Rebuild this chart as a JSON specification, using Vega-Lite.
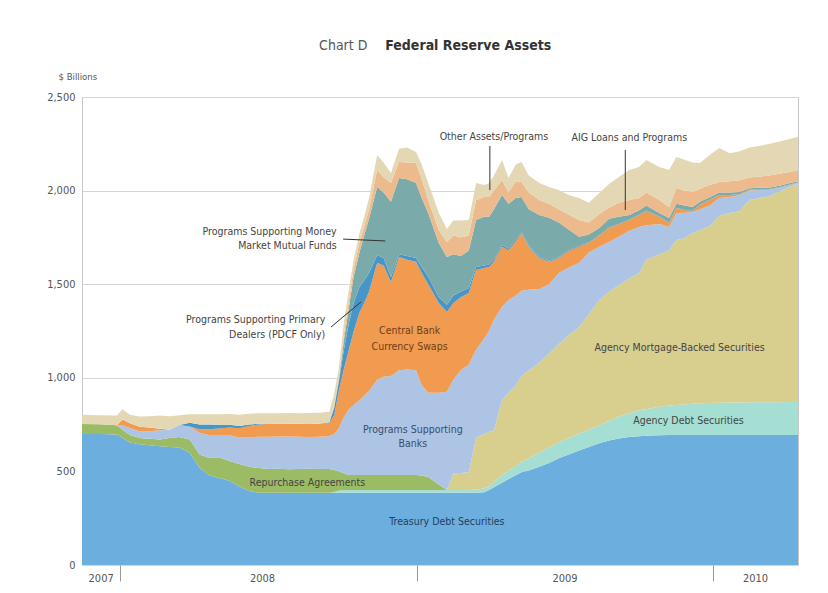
{
  "$schema": "https://vega.github.io/schema/vega-lite/v6.json",
  "width": 716,
  "height": 468,
  "autosize": "none",
  "padding": {"left": 82, "top": 97, "right": 30, "bottom": 28},
  "background": "white",
  "config": {
    "view": {"stroke": "#c8c8c8"},
    "font": "Liberation Sans Narrow, DejaVu Sans Condensed, sans-serif"
  },
  "datasets": {
    "stackorder": [
      {"series": "Treasury", "ord": 1},
      {"series": "AgencyDebt", "ord": 2},
      {"series": "MBS", "ord": 3},
      {"series": "Repo", "ord": 4},
      {"series": "Banks", "ord": 5},
      {"series": "Swaps", "ord": 6},
      {"series": "PDCF", "ord": 7},
      {"series": "MMMF", "ord": 8},
      {"series": "AIG", "ord": 9},
      {"series": "Other", "ord": 10}
    ],
    "assets": [
      {"date": "2007-11-15", "Treasury": 700, "AgencyDebt": 0, "MBS": 0, "Repo": 53, "Banks": 0, "Swaps": 0, "PDCF": 0, "MMMF": 0, "AIG": 0, "Other": 50},
      {"date": "2007-12-07", "Treasury": 700, "AgencyDebt": 0, "MBS": 0, "Repo": 52, "Banks": 0, "Swaps": 0, "PDCF": 0, "MMMF": 0, "AIG": 0, "Other": 48},
      {"date": "2007-12-28", "Treasury": 697, "AgencyDebt": 0, "MBS": 0, "Repo": 50, "Banks": 0, "Swaps": 0, "PDCF": 0, "MMMF": 0, "AIG": 0, "Other": 52},
      {"date": "2008-01-04", "Treasury": 680, "AgencyDebt": 0, "MBS": 0, "Repo": 42, "Banks": 25, "Swaps": 30, "PDCF": 0, "MMMF": 0, "AIG": 0, "Other": 55},
      {"date": "2008-01-13", "Treasury": 655, "AgencyDebt": 0, "MBS": 0, "Repo": 39, "Banks": 38, "Swaps": 25, "PDCF": 0, "MMMF": 0, "AIG": 0, "Other": 45},
      {"date": "2008-01-25", "Treasury": 645, "AgencyDebt": 0, "MBS": 0, "Repo": 33, "Banks": 35, "Swaps": 25, "PDCF": 0, "MMMF": 0, "AIG": 0, "Other": 55},
      {"date": "2008-02-06", "Treasury": 640, "AgencyDebt": 0, "MBS": 0, "Repo": 35, "Banks": 40, "Swaps": 20, "PDCF": 0, "MMMF": 0, "AIG": 0, "Other": 60},
      {"date": "2008-02-19", "Treasury": 635, "AgencyDebt": 0, "MBS": 0, "Repo": 35, "Banks": 50, "Swaps": 8, "PDCF": 0, "MMMF": 0, "AIG": 0, "Other": 70},
      {"date": "2008-03-02", "Treasury": 630, "AgencyDebt": 0, "MBS": 0, "Repo": 48, "Banks": 45, "Swaps": 0, "PDCF": 0, "MMMF": 0, "AIG": 0, "Other": 72},
      {"date": "2008-03-14", "Treasury": 628, "AgencyDebt": 0, "MBS": 0, "Repo": 56, "Banks": 64, "Swaps": 0, "PDCF": 0, "MMMF": 0, "AIG": 0, "Other": 52},
      {"date": "2008-03-27", "Treasury": 600, "AgencyDebt": 0, "MBS": 0, "Repo": 70, "Banks": 70, "Swaps": 0, "PDCF": 20, "MMMF": 0, "AIG": 0, "Other": 45},
      {"date": "2008-04-08", "Treasury": 520, "AgencyDebt": 0, "MBS": 0, "Repo": 70, "Banks": 115, "Swaps": 20, "PDCF": 25, "MMMF": 0, "AIG": 0, "Other": 55},
      {"date": "2008-04-20", "Treasury": 480, "AgencyDebt": 0, "MBS": 0, "Repo": 92, "Banks": 123, "Swaps": 30, "PDCF": 25, "MMMF": 0, "AIG": 0, "Other": 55},
      {"date": "2008-05-02", "Treasury": 465, "AgencyDebt": 0, "MBS": 0, "Repo": 110, "Banks": 119, "Swaps": 35, "PDCF": 20, "MMMF": 0, "AIG": 0, "Other": 56},
      {"date": "2008-05-15", "Treasury": 450, "AgencyDebt": 0, "MBS": 0, "Repo": 105, "Banks": 139, "Swaps": 40, "PDCF": 15, "MMMF": 0, "AIG": 0, "Other": 58},
      {"date": "2008-05-27", "Treasury": 420, "AgencyDebt": 0, "MBS": 0, "Repo": 120, "Banks": 140, "Swaps": 50, "PDCF": 12, "MMMF": 0, "AIG": 0, "Other": 60},
      {"date": "2008-06-08", "Treasury": 395, "AgencyDebt": 0, "MBS": 0, "Repo": 130, "Banks": 157, "Swaps": 60, "PDCF": 8, "MMMF": 0, "AIG": 0, "Other": 58},
      {"date": "2008-06-20", "Treasury": 386, "AgencyDebt": 0, "MBS": 0, "Repo": 132, "Banks": 167, "Swaps": 65, "PDCF": 5, "MMMF": 0, "AIG": 0, "Other": 55},
      {"date": "2008-07-03", "Treasury": 386, "AgencyDebt": 0, "MBS": 0, "Repo": 127, "Banks": 172, "Swaps": 68, "PDCF": 0, "MMMF": 0, "AIG": 0, "Other": 57},
      {"date": "2008-07-15", "Treasury": 386, "AgencyDebt": 0, "MBS": 0, "Repo": 128, "Banks": 172, "Swaps": 70, "PDCF": 0, "MMMF": 0, "AIG": 0, "Other": 54},
      {"date": "2008-07-27", "Treasury": 386, "AgencyDebt": 0, "MBS": 0, "Repo": 125, "Banks": 175, "Swaps": 68, "PDCF": 0, "MMMF": 0, "AIG": 0, "Other": 58},
      {"date": "2008-08-09", "Treasury": 386, "AgencyDebt": 0, "MBS": 0, "Repo": 127, "Banks": 172, "Swaps": 70, "PDCF": 0, "MMMF": 0, "AIG": 0, "Other": 55},
      {"date": "2008-08-21", "Treasury": 386, "AgencyDebt": 0, "MBS": 0, "Repo": 128, "Banks": 170, "Swaps": 72, "PDCF": 0, "MMMF": 0, "AIG": 0, "Other": 56},
      {"date": "2008-09-02", "Treasury": 386, "AgencyDebt": 0, "MBS": 0, "Repo": 127, "Banks": 172, "Swaps": 70, "PDCF": 0, "MMMF": 0, "AIG": 0, "Other": 58},
      {"date": "2008-09-15", "Treasury": 386, "AgencyDebt": 0, "MBS": 0, "Repo": 127, "Banks": 175, "Swaps": 70, "PDCF": 5, "MMMF": 0, "AIG": 0, "Other": 55},
      {"date": "2008-09-21", "Treasury": 386, "AgencyDebt": 4, "MBS": 0, "Repo": 118, "Banks": 192, "Swaps": 100, "PDCF": 40, "MMMF": 0, "AIG": 10, "Other": 65},
      {"date": "2008-09-27", "Treasury": 386, "AgencyDebt": 12, "MBS": 0, "Repo": 102, "Banks": 230, "Swaps": 205, "PDCF": 50, "MMMF": 10, "AIG": 15, "Other": 50},
      {"date": "2008-10-03", "Treasury": 386, "AgencyDebt": 14, "MBS": 0, "Repo": 90, "Banks": 300, "Swaps": 258, "PDCF": 102, "MMMF": 50, "AIG": 30, "Other": 70},
      {"date": "2008-10-09", "Treasury": 386, "AgencyDebt": 15, "MBS": 0, "Repo": 80, "Banks": 349, "Swaps": 317, "PDCF": 143, "MMMF": 80, "AIG": 40, "Other": 60},
      {"date": "2008-10-15", "Treasury": 386, "AgencyDebt": 15, "MBS": 0, "Repo": 80, "Banks": 374, "Swaps": 392, "PDCF": 153, "MMMF": 140, "AIG": 40, "Other": 50},
      {"date": "2008-10-22", "Treasury": 386, "AgencyDebt": 15, "MBS": 0, "Repo": 80, "Banks": 399, "Swaps": 466, "PDCF": 139, "MMMF": 182, "AIG": 53, "Other": 50},
      {"date": "2008-10-28", "Treasury": 386, "AgencyDebt": 15, "MBS": 0, "Repo": 80, "Banks": 424, "Swaps": 495, "PDCF": 120, "MMMF": 240, "AIG": 50, "Other": 50},
      {"date": "2008-11-03", "Treasury": 386, "AgencyDebt": 15, "MBS": 0, "Repo": 80, "Banks": 449, "Swaps": 530, "PDCF": 100, "MMMF": 290, "AIG": 50, "Other": 60},
      {"date": "2008-11-13", "Treasury": 386, "AgencyDebt": 15, "MBS": 0, "Repo": 80, "Banks": 509, "Swaps": 623, "PDCF": 43, "MMMF": 363, "AIG": 91, "Other": 80},
      {"date": "2008-11-21", "Treasury": 386, "AgencyDebt": 15, "MBS": 0, "Repo": 80, "Banks": 524, "Swaps": 595, "PDCF": 40, "MMMF": 350, "AIG": 80, "Other": 80},
      {"date": "2008-11-30", "Treasury": 386, "AgencyDebt": 15, "MBS": 0, "Repo": 80, "Banks": 529, "Swaps": 500, "PDCF": 28, "MMMF": 402, "AIG": 100, "Other": 54},
      {"date": "2008-12-10", "Treasury": 386, "AgencyDebt": 15, "MBS": 0, "Repo": 80, "Banks": 559, "Swaps": 605, "PDCF": 15, "MMMF": 407, "AIG": 86, "Other": 70},
      {"date": "2008-12-20", "Treasury": 386, "AgencyDebt": 15, "MBS": 0, "Repo": 80, "Banks": 564, "Swaps": 585, "PDCF": 20, "MMMF": 410, "AIG": 90, "Other": 80},
      {"date": "2008-12-31", "Treasury": 386, "AgencyDebt": 15, "MBS": 0, "Repo": 80, "Banks": 559, "Swaps": 580, "PDCF": 20, "MMMF": 400, "AIG": 107, "Other": 59},
      {"date": "2009-01-07", "Treasury": 386, "AgencyDebt": 15, "MBS": 0, "Repo": 77, "Banks": 482, "Swaps": 600, "PDCF": 30, "MMMF": 370, "AIG": 100, "Other": 80},
      {"date": "2009-01-15", "Treasury": 386, "AgencyDebt": 15, "MBS": 0, "Repo": 69, "Banks": 450, "Swaps": 580, "PDCF": 40, "MMMF": 340, "AIG": 70, "Other": 90},
      {"date": "2009-01-28", "Treasury": 386, "AgencyDebt": 15, "MBS": 0, "Repo": 29, "Banks": 490, "Swaps": 480, "PDCF": 30, "MMMF": 290, "AIG": 70, "Other": 90},
      {"date": "2009-02-07", "Treasury": 386, "AgencyDebt": 15, "MBS": 0, "Repo": 0, "Banks": 524, "Swaps": 427, "PDCF": 38, "MMMF": 255, "AIG": 80, "Other": 70},
      {"date": "2009-02-15", "Treasury": 386, "AgencyDebt": 15, "MBS": 89, "Repo": 0, "Banks": 500, "Swaps": 410, "PDCF": 40, "MMMF": 220, "AIG": 100, "Other": 80},
      {"date": "2009-02-24", "Treasury": 386, "AgencyDebt": 15, "MBS": 91, "Repo": 0, "Banks": 548, "Swaps": 390, "PDCF": 30, "MMMF": 190, "AIG": 100, "Other": 90},
      {"date": "2009-03-06", "Treasury": 386, "AgencyDebt": 15, "MBS": 94, "Repo": 0, "Banks": 575, "Swaps": 383, "PDCF": 27, "MMMF": 200, "AIG": 80, "Other": 83},
      {"date": "2009-03-15", "Treasury": 386, "AgencyDebt": 16, "MBS": 278, "Repo": 0, "Banks": 470, "Swaps": 426, "PDCF": 16, "MMMF": 251, "AIG": 107, "Other": 90},
      {"date": "2009-03-25", "Treasury": 388, "AgencyDebt": 22, "MBS": 290, "Repo": 0, "Banks": 510, "Swaps": 376, "PDCF": 14, "MMMF": 260, "AIG": 106, "Other": 64},
      {"date": "2009-03-31", "Treasury": 400, "AgencyDebt": 20, "MBS": 290, "Repo": 0, "Banks": 540, "Swaps": 340, "PDCF": 15, "MMMF": 255, "AIG": 106, "Other": 74},
      {"date": "2009-04-06", "Treasury": 415, "AgencyDebt": 30, "MBS": 275, "Repo": 0, "Banks": 590, "Swaps": 310, "PDCF": 10, "MMMF": 270, "AIG": 100, "Other": 80},
      {"date": "2009-04-16", "Treasury": 440, "AgencyDebt": 40, "MBS": 400, "Repo": 0, "Banks": 500, "Swaps": 320, "PDCF": 10, "MMMF": 267, "AIG": 80, "Other": 106},
      {"date": "2009-04-24", "Treasury": 460, "AgencyDebt": 45, "MBS": 415, "Repo": 0, "Banks": 495, "Swaps": 265, "PDCF": 10, "MMMF": 240, "AIG": 60, "Other": 77},
      {"date": "2009-05-03", "Treasury": 480, "AgencyDebt": 48, "MBS": 432, "Repo": 0, "Banks": 480, "Swaps": 290, "PDCF": 10, "MMMF": 220, "AIG": 90, "Other": 90},
      {"date": "2009-05-10", "Treasury": 495, "AgencyDebt": 55, "MBS": 460, "Repo": 0, "Banks": 455, "Swaps": 308, "PDCF": 7, "MMMF": 186, "AIG": 80, "Other": 107},
      {"date": "2009-05-19", "Treasury": 505, "AgencyDebt": 65, "MBS": 470, "Repo": 0, "Banks": 430, "Swaps": 230, "PDCF": 5, "MMMF": 195, "AIG": 90, "Other": 90},
      {"date": "2009-06-01", "Treasury": 525, "AgencyDebt": 75, "MBS": 480, "Repo": 0, "Banks": 395, "Swaps": 165, "PDCF": 5, "MMMF": 225, "AIG": 80, "Other": 90},
      {"date": "2009-06-13", "Treasury": 545, "AgencyDebt": 83, "MBS": 502, "Repo": 0, "Banks": 370, "Swaps": 120, "PDCF": 5, "MMMF": 230, "AIG": 75, "Other": 89},
      {"date": "2009-06-25", "Treasury": 570, "AgencyDebt": 85, "MBS": 525, "Repo": 0, "Banks": 380, "Swaps": 80, "PDCF": 5, "MMMF": 185, "AIG": 70, "Other": 103},
      {"date": "2009-07-08", "Treasury": 592, "AgencyDebt": 88, "MBS": 550, "Repo": 0, "Banks": 360, "Swaps": 90, "PDCF": 5, "MMMF": 105, "AIG": 80, "Other": 105},
      {"date": "2009-07-20", "Treasury": 612, "AgencyDebt": 90, "MBS": 568, "Repo": 0, "Banks": 343, "Swaps": 87, "PDCF": 5, "MMMF": 48, "AIG": 90, "Other": 117},
      {"date": "2009-08-01", "Treasury": 630, "AgencyDebt": 92, "MBS": 618, "Repo": 0, "Banks": 330, "Swaps": 50, "PDCF": 2, "MMMF": 43, "AIG": 65, "Other": 105},
      {"date": "2009-08-14", "Treasury": 650, "AgencyDebt": 95, "MBS": 670, "Repo": 0, "Banks": 285, "Swaps": 60, "PDCF": 3, "MMMF": 37, "AIG": 75, "Other": 112},
      {"date": "2009-08-26", "Treasury": 665, "AgencyDebt": 105, "MBS": 690, "Repo": 0, "Banks": 265, "Swaps": 75, "PDCF": 3, "MMMF": 47, "AIG": 60, "Other": 125},
      {"date": "2009-09-07", "Treasury": 676, "AgencyDebt": 116, "MBS": 703, "Repo": 0, "Banks": 258, "Swaps": 67, "PDCF": 2, "MMMF": 38, "AIG": 75, "Other": 138},
      {"date": "2009-09-20", "Treasury": 684, "AgencyDebt": 126, "MBS": 720, "Repo": 0, "Banks": 255, "Swaps": 58, "PDCF": 2, "MMMF": 25, "AIG": 80, "Other": 160},
      {"date": "2009-10-02", "Treasury": 688, "AgencyDebt": 137, "MBS": 735, "Repo": 0, "Banks": 245, "Swaps": 65, "PDCF": 2, "MMMF": 23, "AIG": 65, "Other": 166},
      {"date": "2009-10-11", "Treasury": 690, "AgencyDebt": 142, "MBS": 798, "Repo": 0, "Banks": 185, "Swaps": 75, "PDCF": 2, "MMMF": 28, "AIG": 70, "Other": 173},
      {"date": "2009-10-27", "Treasury": 693, "AgencyDebt": 152, "MBS": 815, "Repo": 0, "Banks": 162, "Swaps": 38, "PDCF": 2, "MMMF": 18, "AIG": 70, "Other": 176},
      {"date": "2009-11-08", "Treasury": 695, "AgencyDebt": 157, "MBS": 828, "Repo": 0, "Banks": 126, "Swaps": 21, "PDCF": 2, "MMMF": 25, "AIG": 59, "Other": 197},
      {"date": "2009-11-17", "Treasury": 695, "AgencyDebt": 160, "MBS": 881, "Repo": 0, "Banks": 144, "Swaps": 27, "PDCF": 2, "MMMF": 21, "AIG": 84, "Other": 166},
      {"date": "2009-11-27", "Treasury": 695, "AgencyDebt": 163, "MBS": 887, "Repo": 0, "Banks": 137, "Swaps": 13, "PDCF": 2, "MMMF": 23, "AIG": 80, "Other": 165},
      {"date": "2009-12-07", "Treasury": 695, "AgencyDebt": 166, "MBS": 912, "Repo": 0, "Banks": 112, "Swaps": 5, "PDCF": 2, "MMMF": 20, "AIG": 81, "Other": 157},
      {"date": "2009-12-16", "Treasury": 695, "AgencyDebt": 169, "MBS": 926, "Repo": 0, "Banks": 110, "Swaps": 23, "PDCF": 2, "MMMF": 15, "AIG": 70, "Other": 137},
      {"date": "2009-12-28", "Treasury": 695, "AgencyDebt": 171, "MBS": 944, "Repo": 0, "Banks": 110, "Swaps": 30, "PDCF": 2, "MMMF": 13, "AIG": 65, "Other": 160},
      {"date": "2010-01-09", "Treasury": 695, "AgencyDebt": 172, "MBS": 998, "Repo": 0, "Banks": 95, "Swaps": 15, "PDCF": 2, "MMMF": 13, "AIG": 56, "Other": 181},
      {"date": "2010-01-22", "Treasury": 695, "AgencyDebt": 173, "MBS": 1012, "Repo": 0, "Banks": 86, "Swaps": 9, "PDCF": 2, "MMMF": 13, "AIG": 60, "Other": 150},
      {"date": "2010-02-03", "Treasury": 695, "AgencyDebt": 173, "MBS": 1022, "Repo": 0, "Banks": 85, "Swaps": 5, "PDCF": 2, "MMMF": 11, "AIG": 62, "Other": 155},
      {"date": "2010-02-15", "Treasury": 695, "AgencyDebt": 174, "MBS": 1081, "Repo": 0, "Banks": 50, "Swaps": 3, "PDCF": 2, "MMMF": 7, "AIG": 58, "Other": 160},
      {"date": "2010-02-28", "Treasury": 695, "AgencyDebt": 174, "MBS": 1091, "Repo": 0, "Banks": 43, "Swaps": 2, "PDCF": 2, "MMMF": 8, "AIG": 60, "Other": 165},
      {"date": "2010-03-12", "Treasury": 695, "AgencyDebt": 175, "MBS": 1100, "Repo": 0, "Banks": 35, "Swaps": 2, "PDCF": 2, "MMMF": 8, "AIG": 63, "Other": 170},
      {"date": "2010-03-24", "Treasury": 695, "AgencyDebt": 175, "MBS": 1125, "Repo": 0, "Banks": 20, "Swaps": 2, "PDCF": 2, "MMMF": 7, "AIG": 64, "Other": 172},
      {"date": "2010-04-06", "Treasury": 695, "AgencyDebt": 176, "MBS": 1149, "Repo": 0, "Banks": 10, "Swaps": 1, "PDCF": 2, "MMMF": 7, "AIG": 60, "Other": 175},
      {"date": "2010-04-16", "Treasury": 695, "AgencyDebt": 176, "MBS": 1164, "Repo": 0, "Banks": 7, "Swaps": 1, "PDCF": 2, "MMMF": 5, "AIG": 60, "Other": 178}
    ],
    "pointers": [
      {"date": "2009-04-01", "value": 2238, "date2": "2009-04-01", "value2": 2003},
      {"date": "2009-09-15", "value": 2217, "date2": "2009-09-15", "value2": 1896},
      {"date": "2008-10-02", "value": 1741, "date2": "2008-11-23", "value2": 1731},
      {"date": "2008-09-17", "value": 1271, "date2": "2008-10-24", "value2": 1405}
    ],
    "labels_center": [
      {"date": "2009-04-06", "value": 2286, "text": "Other Assets/Programs"},
      {"date": "2009-09-20", "value": 2281, "text": "AIG Loans and Programs"},
      {"date": "2009-11-21", "value": 1159, "text": "Agency Mortgage-Backed Securities"},
      {"date": "2009-12-02", "value": 769, "text": "Agency Debt Securities"},
      {"date": "2008-08-19", "value": 438, "text": "Repurchase Agreements"}
    ],
    "labels_right": [
      {"date": "2008-09-24", "value": 1779, "text": "Programs Supporting Money"},
      {"date": "2008-09-24", "value": 1704, "text": "Market Mutual Funds"},
      {"date": "2008-09-10", "value": 1309, "text": "Programs Supporting Primary"},
      {"date": "2008-09-10", "value": 1229, "text": "Dealers (PDCF Only)"}
    ],
    "labels_swaps": [
      {"date": "2008-12-23", "value": 1250, "text": "Central Bank"},
      {"date": "2008-12-23", "value": 1165, "text": "Currency Swaps"}
    ],
    "labels_banks": [
      {"date": "2008-12-27", "value": 721, "text": "Programs Supporting"},
      {"date": "2008-12-27", "value": 646, "text": "Banks"}
    ],
    "labels_treasury": [
      {"date": "2009-02-07", "value": 230, "text": "Treasury Debt Securities"}
    ],
    "title_a": [{"date": "2008-11-01", "value": 2772, "text": "Chart D"}],
    "title_b": [{"date": "2008-11-23", "value": 2772, "text": "Federal Reserve Assets"}]
  },
  "encoding": {
    "x": {
      "field": "date",
      "type": "temporal",
      "scale": {
        "type": "utc",
        "domain": [
          {"year": 2007, "month": 11, "date": 15, "utc": true},
          {"year": 2010, "month": 4, "date": 16, "utc": true}
        ]
      },
      "axis": {
        "title": null,
        "values": [
          {"year": 2007, "month": 12, "date": 8, "utc": true},
          {"year": 2008, "month": 1, "date": 1, "utc": true},
          {"year": 2008, "month": 6, "date": 24, "utc": true},
          {"year": 2009, "month": 1, "date": 1, "utc": true},
          {"year": 2009, "month": 7, "date": 2, "utc": true},
          {"year": 2010, "month": 1, "date": 1, "utc": true},
          {"year": 2010, "month": 2, "date": 22, "utc": true}
        ],
        "labelExpr": "(utcmonth(datum.value) == 0 && utcdate(datum.value) == 1) ? '' : utcFormat(datum.value, '%Y')",
        "tickOpacity": {"condition": {"test": "utcmonth(datum.value) == 0 && utcdate(datum.value) == 1", "value": 1}, "value": 0},
        "tickSize": 16,
        "tickColor": "#9a9a9a",
        "domain": false,
        "grid": false,
        "labelPadding": -9,
        "labelFontSize": 11,
        "labelColor": "#555555",
        "labelFlush": false,
        "labelOverlap": false
      }
    },
    "y": {
      "field": "value",
      "type": "quantitative",
      "scale": {"domain": [0, 2500], "nice": false},
      "axis": {
        "values": [0, 500, 1000, 1500, 2000, 2500],
        "format": ",.0f",
        "title": "$ Billions",
        "titleAngle": 0,
        "titleAlign": "left",
        "titleBaseline": "alphabetic",
        "titleX": -24,
        "titleY": -18,
        "titleFontSize": 9.5,
        "titleFontWeight": "normal",
        "titleColor": "#555555",
        "labelFontSize": 11,
        "labelColor": "#555555",
        "labelPadding": 7,
        "ticks": false,
        "domainColor": "#c8c8c8",
        "gridColor": "#d6d6d6",
        "grid": true
      }
    }
  },
  "layer": [
    {
      "data": {"name": "assets"},
      "transform": [
        {"fold": ["Treasury", "AgencyDebt", "MBS", "Repo", "Banks", "Swaps", "PDCF", "MMMF", "AIG", "Other"], "as": ["series", "value"]},
        {"lookup": "series", "from": {"data": {"name": "stackorder"}, "key": "series", "fields": ["ord"]}}
      ],
      "mark": {"type": "area", "interpolate": "linear"},
      "encoding": {
        "color": {
          "field": "series",
          "type": "nominal",
          "scale": {
            "domain": ["Treasury", "AgencyDebt", "MBS", "Repo", "Banks", "Swaps", "PDCF", "MMMF", "AIG", "Other"],
            "range": ["#6caede", "#a5ded2", "#d8cf8f", "#9bbc64", "#adc4e4", "#f09b50", "#4896c8", "#7aaaaa", "#ecba8c", "#e4d8b4"]
          },
          "legend": null
        },
        "order": {"field": "ord", "type": "quantitative", "sort": "ascending"}
      }
    },
    {
      "data": {"name": "pointers"},
      "mark": {"type": "rule", "color": "#333333", "strokeWidth": 1},
      "encoding": {
        "x2": {"field": "date2"},
        "y2": {"field": "value2"}
      }
    },
    {
      "data": {"name": "labels_center"},
      "mark": {"type": "text", "align": "center", "baseline": "middle", "fontSize": 10.5, "color": "#444444"},
      "encoding": {"text": {"field": "text"}}
    },
    {
      "data": {"name": "labels_right"},
      "mark": {"type": "text", "align": "right", "baseline": "middle", "fontSize": 10.5, "color": "#444444"},
      "encoding": {"text": {"field": "text"}}
    },
    {
      "data": {"name": "labels_swaps"},
      "mark": {"type": "text", "align": "center", "baseline": "middle", "fontSize": 10.5, "color": "#6e3f14"},
      "encoding": {"text": {"field": "text"}}
    },
    {
      "data": {"name": "labels_banks"},
      "mark": {"type": "text", "align": "center", "baseline": "middle", "fontSize": 10.5, "color": "#3b4c6b"},
      "encoding": {"text": {"field": "text"}}
    },
    {
      "data": {"name": "labels_treasury"},
      "mark": {"type": "text", "align": "center", "baseline": "middle", "fontSize": 10.5, "color": "#24405c"},
      "encoding": {"text": {"field": "text"}}
    },
    {
      "data": {"name": "title_a"},
      "mark": {"type": "text", "align": "right", "baseline": "middle", "fontSize": 14, "color": "#555555"},
      "encoding": {"text": {"field": "text"}}
    },
    {
      "data": {"name": "title_b"},
      "mark": {"type": "text", "align": "left", "baseline": "middle", "fontSize": 14, "fontWeight": "bold", "color": "#333333"},
      "encoding": {"text": {"field": "text"}}
    }
  ]
}
